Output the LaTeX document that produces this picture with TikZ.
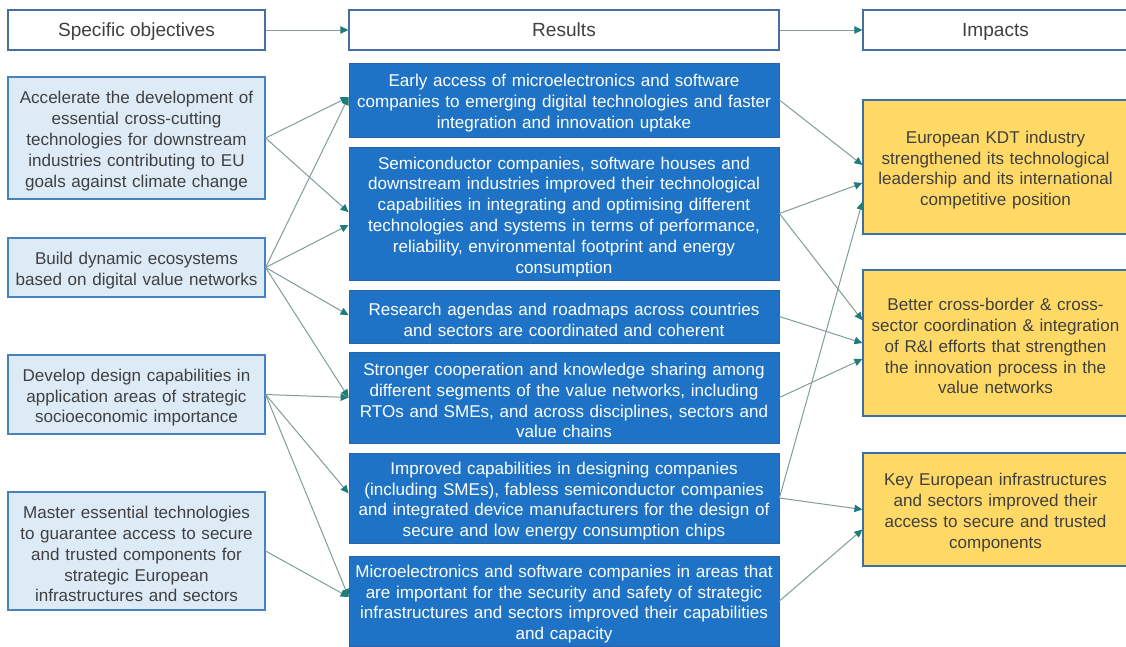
\documentclass[tikz,border=0pt]{standalone}
\usepackage{fontspec}
\setmainfont{Liberation Sans}
\usetikzlibrary{arrows.meta}
\hyphenpenalty=10000
\exhyphenpenalty=10000
\definecolor{hdrborder}{RGB}{70,110,160}
\definecolor{txtgray}{RGB}{64,64,64}
\definecolor{lfill}{RGB}{221,235,247}
\definecolor{lborder}{RGB}{70,130,190}
\definecolor{mfill}{RGB}{31,115,198}
\definecolor{mborder}{RGB}{40,100,170}
\definecolor{rfill}{RGB}{255,217,102}
\definecolor{rborder}{RGB}{60,110,170}
\definecolor{linec}{RGB}{130,155,155}
\definecolor{tipc}{RGB}{30,125,120}
\tikzset{
  hdr/.style={draw=hdrborder, line width=0.8pt, fill=white, text=txtgray,
    minimum height=30pt, inner sep=0pt, text height=12pt, text depth=3pt,
    font=\fontsize{14.3}{17}\selectfont},
  bodybox/.style={align=center, inner sep=0pt,
    font=\fontsize{12.8}{15.6}\selectfont,
    execute at begin node={\rule{0pt}{14pt}}},
  lbox/.style={bodybox, draw=lborder, line width=0.9pt, fill=lfill, text=txtgray,
    minimum width=192.75pt, text width=188pt},
  mbox/.style={bodybox, draw=mborder, line width=0.6pt, fill=mfill, text=white,
    minimum width=322.5pt, text width=320pt},
  rbox/.style={bodybox, draw=rborder, line width=0.9pt, fill=rfill, text=txtgray,
    minimum width=198.75pt, text width=196pt},
  conn/.style={draw=linec, line width=0.75pt, -{Triangle[length=6pt,width=5.5pt,color=tipc]}}
}
\begin{document}
\begin{tikzpicture}[x=0.75pt,y=-0.75pt]
\useasboundingbox (0,0) rectangle (1126,646);
% headers
\node[hdr, minimum width=192.75pt] (h1) at (136.5,30) {Specific objectives};
\node[hdr, minimum width=322.5pt] (h2) at (564,30) {Results};
\node[hdr, minimum width=198.75pt] (h3) at (995.5,30) {Impacts};
\draw[conn] (h1.east) -- (h2.west);
\draw[conn] (h2.east) -- (h3.west);
% left
\node[lbox, minimum height=91.5pt] (l1) at (136.5,138) {Accelerate the development of\\essential cross-cutting\\technologies for downstream\\industries contributing to EU\\goals against climate change};
\node[lbox, minimum height=44.25pt] (l2) at (136.5,267.5) {Build dynamic ecosystems\\based on digital value networks};
\node[lbox, minimum height=59.25pt] (l3) at (136.5,394.5) {Develop design capabilities in\\application areas of strategic\\socioeconomic importance};
\node[lbox, minimum height=88.5pt] (l4) at (136.5,551) {Master essential technologies\\to guarantee access to secure\\and trusted components for\\strategic European\\infrastructures and sectors};
% middle
\node[mbox, minimum height=55.5pt] (m1) at (564,100) {Early access of microelectronics and software\\companies to emerging digital technologies and faster\\integration and innovation uptake};
\node[mbox, minimum height=99.75pt] (m2) at (564,213.5) {Semiconductor companies, software houses and\\downstream industries improved their technological\\capabilities in integrating and optimising different\\technologies and systems in terms of performance,\\reliability, environmental footprint and energy\\consumption};
\node[mbox, minimum height=39.75pt] (m3) at (564,316.5) {Research agendas and roadmaps across countries\\and sectors are coordinated and coherent};
\node[mbox, minimum height=68.25pt] (m4) at (564,397.5) {Stronger cooperation and knowledge sharing among\\different segments of the value networks, including\\RTOs and SMEs, and across disciplines, sectors and\\value chains};
\node[mbox, minimum height=67.5pt] (m5) at (564,498) {Improved capabilities in designing companies\\(including SMEs), fabless semiconductor companies\\and integrated device manufacturers for the design of\\secure and low energy consumption chips};
\node[mbox, minimum height=67.5pt] (m6) at (564,601) {Microelectronics and software companies in areas that\\are important for the security and safety of strategic\\infrastructures and sectors improved their capabilities\\and capacity};
% right
\node[rbox, minimum height=100.5pt] (r1) at (995.5,167) {European KDT industry\\strengthened its technological\\leadership and its international\\competitive position};
\node[rbox, minimum height=109.5pt] (r2) at (995.5,343) {Better cross-border \& cross-\\sector coordination \& integration\\of R\&I efforts that strengthen\\the innovation process in the\\value networks};
\node[rbox, minimum height=84.75pt] (r3) at (995.5,509.5) {Key European infrastructures\\and sectors improved their\\access to secure and trusted\\components};
% left -> middle
\draw[conn] (l1.east) -- ([yshift=2.25pt]m1.west);
\draw[conn] (l1.east) -- ([yshift=1pt]m2.west);
\draw[conn] (l2.east) -- ([yshift=2.25pt]m1.west);
\draw[conn] (l2.east) -- ([yshift=-8.6pt]m2.west);
\draw[conn] (l2.east) -- ([yshift=1pt]m3.west);
\draw[conn] (l2.east) -- ([yshift=0pt]m4.west);
\draw[conn] (l3.east) -- ([yshift=0pt]m4.west);
\draw[conn] (l3.east) -- ([yshift=3.5pt]m5.west);
\draw[conn] (l3.east) -- ([yshift=3pt]m6.west);
\draw[conn] (l4.east) -- ([yshift=3pt]m6.west);
% middle -> right
\draw[conn] (m1.east) -- ([yshift=1.5pt]r1.west);
\draw[conn] (m2.east) -- ([yshift=-12pt]r1.west);
\draw[conn] (m2.east) -- ([yshift=17pt]r2.west);
\draw[conn] (m3.east) -- ([yshift=0pt]r2.west);
\draw[conn] (m4.east) -- ([yshift=-12pt]r2.west);
\draw[conn] (m5.east) -- ([yshift=-26pt]r1.west);
\draw[conn] (m5.east) -- ([yshift=0pt]r3.west);
\draw[conn] (m6.east) -- ([yshift=-15pt]r3.west);
\end{tikzpicture}
\end{document}
